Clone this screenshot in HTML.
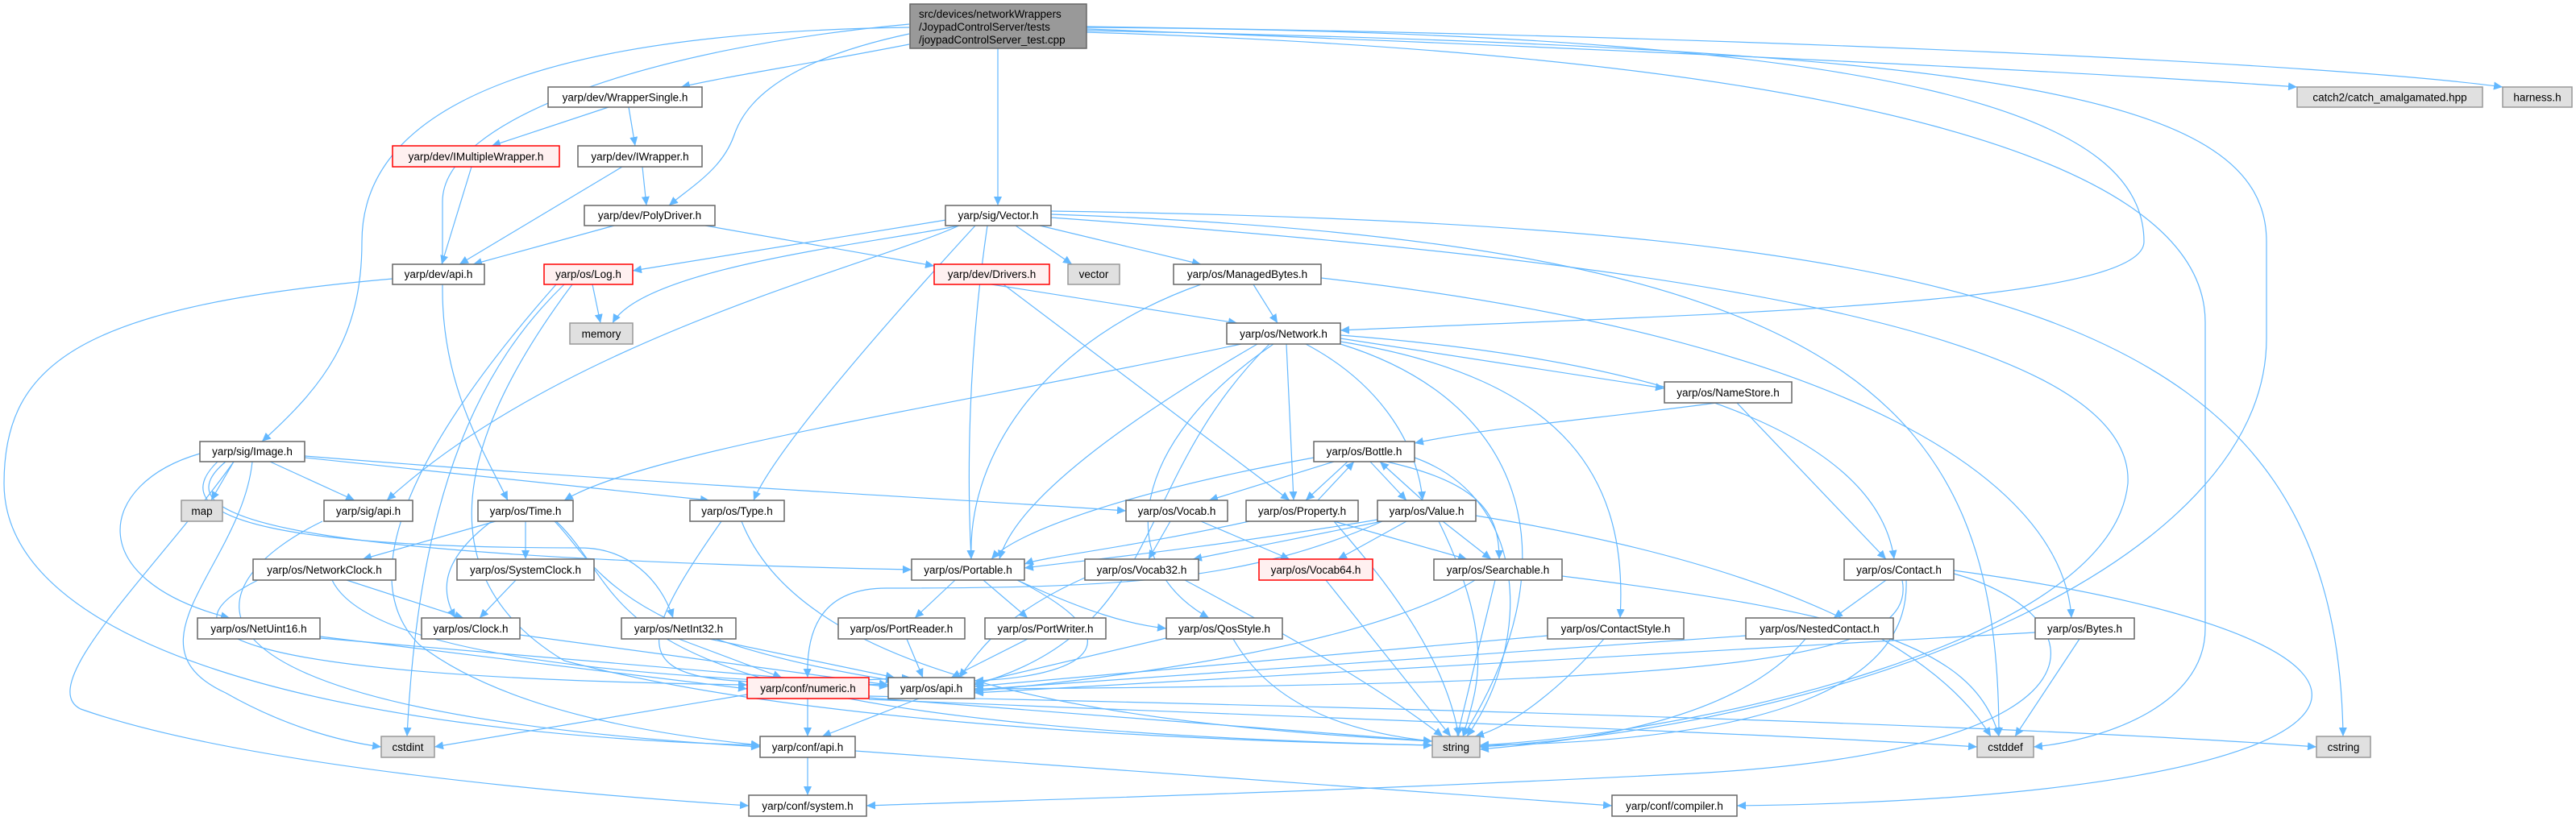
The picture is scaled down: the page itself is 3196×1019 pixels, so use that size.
<!DOCTYPE html>
<html><head><meta charset="utf-8"><style>
html,body{margin:0;padding:0;background:#fff;}
svg{display:block;}
text{font-family:"Liberation Sans",sans-serif;font-size:13.5px;fill:#000;}
.e{fill:none;stroke:#63b8ff;stroke-width:1.2;marker-end:url(#a);}
.n{fill:#fff;stroke:#666;stroke-width:1.5;}
.g{fill:#e0e0e0;stroke:#999;stroke-width:1.5;}
.r{fill:#fff0f0;stroke:#ff0000;stroke-width:1.5;}
</style></head><body>
<svg width="3196" height="1019" viewBox="0 0 3196 1019" xmlns="http://www.w3.org/2000/svg">
<defs><marker id="a" markerUnits="userSpaceOnUse" markerWidth="12" markerHeight="10" refX="11" refY="5" orient="auto"><polygon points="0,0 11,5 0,10" fill="#63b8ff"/></marker></defs>
<g>
<path class="e" d="M1238,60 L1238,255"/>
<path class="e" d="M1128,55 C1000,80 900,95 845,108"/>
<path class="e" d="M1128,42 C950,80 920,140 910,170 C895,210 860,230 830,255"/>
<path class="e" d="M1128,34 C700,40 449,120 449,300 C449,420 400,480 325,548"/>
<path class="e" d="M1128,30 C800,60 549,150 549,250 L549,360 C549,480 600,560 630,621"/>
<path class="e" d="M1348,34 C2400,40 2660,150 2660,300 C2660,380 2100,390 1663,410"/>
<path class="e" d="M1348,36 C2000,60 2600,90 2850,108"/>
<path class="e" d="M1348,33 C2200,45 2900,80 3105,108"/>
<path class="e" d="M1348,38 C2500,60 2812,120 2812,300 L2812,420 C2812,700 2300,900 1835,927"/>
<path class="e" d="M1348,40 C2300,70 2736,200 2736,400 L2736,780 C2736,880 2600,920 2523,927"/>
<path class="e" d="M755,133 L610,181"/>
<path class="e" d="M780,133 L788,181"/>
<path class="e" d="M585,207 L548,328"/>
<path class="e" d="M772,207 L570,328"/>
<path class="e" d="M797,207 L802,255"/>
<path class="e" d="M762,280 L587,328"/>
<path class="e" d="M875,280 L1159,330"/>
<path class="e" d="M487,346 C100,380 5,450 5,600 C5,800 400,910 943,925"/>
<path class="e" d="M1180,272 L785,336"/>
<path class="e" d="M1190,280 C1100,300 800,330 760,401"/>
<path class="e" d="M1260,280 L1330,328"/>
<path class="e" d="M1290,280 L1490,328"/>
<path class="e" d="M1190,280 C1080,330 700,420 480,621"/>
<path class="e" d="M1210,280 C1100,400 960,560 935,621"/>
<path class="e" d="M1225,280 C1200,450 1200,600 1205,694"/>
<path class="e" d="M1304,262 C2500,280 2900,400 2907,914"/>
<path class="e" d="M1304,266 C2300,300 2480,500 2480,914"/>
<path class="e" d="M1304,270 C2000,320 2650,400 2640,600 C2620,800 2100,910 1836,925"/>
<path class="e" d="M1230,353 L1535,401"/>
<path class="e" d="M1245,353 L1600,621"/>
<path class="e" d="M1490,353 C1300,420 1200,560 1205,694"/>
<path class="e" d="M1639,345 C2300,420 2560,600 2570,767"/>
<path class="e" d="M1555,353 L1585,401"/>
<path class="e" d="M700,353 C600,450 520,600 505,914"/>
<path class="e" d="M690,353 C560,500 420,700 520,800 C650,900 900,920 943,925"/>
<path class="e" d="M710,353 C600,500 500,700 700,820 C1000,900 1500,920 1777,925"/>
<path class="e" d="M735,353 L745,401"/>
<path class="e" d="M1540,427 C1200,500 800,560 700,621"/>
<path class="e" d="M1560,427 C1400,520 1260,620 1240,694"/>
<path class="e" d="M1596,427 L1605,621"/>
<path class="e" d="M1620,427 C1720,480 1760,560 1765,621"/>
<path class="e" d="M1663,420 L2065,482"/>
<path class="e" d="M1663,416 C2100,450 2330,550 2350,694"/>
<path class="e" d="M1663,424 C1950,470 2020,600 2010,767"/>
<path class="e" d="M1580,427 C1400,550 1380,700 1500,767"/>
<path class="e" d="M1575,427 C1400,600 1450,780 1209,850"/>
<path class="e" d="M1663,427 C1900,500 1950,700 1815,914"/>
<path class="e" d="M2130,500 C1980,520 1850,530 1755,550"/>
<path class="e" d="M2155,500 L2340,694"/>
<path class="e" d="M290,573 L262,621"/>
<path class="e" d="M335,573 L440,621"/>
<path class="e" d="M378,568 L880,621"/>
<path class="e" d="M378,566 C800,600 1200,620 1397,634"/>
<path class="e" d="M280,573 C200,640 320,690 1131,707"/>
<path class="e" d="M248,563 C120,600 100,720 285,767"/>
<path class="e" d="M270,573 C190,650 380,680 720,680 C780,680 820,720 835,767"/>
<path class="e" d="M313,573 C300,700 150,800 280,860 C350,900 420,920 473,927"/>
<path class="e" d="M290,573 C200,700 40,850 100,880 C300,950 700,985 929,1000"/>
<path class="e" d="M400,647 C250,720 150,880 943,927"/>
<path class="e" d="M615,647 L450,694"/>
<path class="e" d="M652,647 L652,694"/>
<path class="e" d="M610,647 C540,700 550,740 565,767"/>
<path class="e" d="M688,647 C740,700 760,790 1110,845"/>
<path class="e" d="M690,647 C800,750 700,900 1777,925"/>
<path class="e" d="M895,647 C760,840 780,860 1130,841"/>
<path class="e" d="M920,647 C1000,850 1400,900 1777,920"/>
<path class="e" d="M430,720 L575,767"/>
<path class="e" d="M412,720 C450,800 700,840 1102,850"/>
<path class="e" d="M320,720 C200,780 250,840 927,850"/>
<path class="e" d="M640,720 L595,767"/>
<path class="e" d="M645,788 L1102,850"/>
<path class="e" d="M397,792 L1102,852"/>
<path class="e" d="M397,790 L927,855"/>
<path class="e" d="M842,793 L970,841"/>
<path class="e" d="M880,793 L1110,841"/>
<path class="e" d="M1655,573 L1500,621"/>
<path class="e" d="M1672,573 L1620,621"/>
<path class="e" d="M1700,573 L1745,621"/>
<path class="e" d="M1720,573 C1840,600 1860,640 1860,694"/>
<path class="e" d="M1630,568 C1400,610 1260,660 1230,694"/>
<path class="e" d="M1755,568 C1900,620 1900,800 1820,914"/>
<path class="e" d="M1635,621 L1680,573"/>
<path class="e" d="M1765,621 L1712,573"/>
<path class="e" d="M1550,647 C1400,680 1300,690 1271,700"/>
<path class="e" d="M1655,647 L1820,694"/>
<path class="e" d="M1655,647 C1700,700 1790,800 1810,914"/>
<path class="e" d="M1709,645 C1500,680 1350,695 1271,705"/>
<path class="e" d="M1715,647 L1480,694"/>
<path class="e" d="M1745,647 L1660,694"/>
<path class="e" d="M1790,647 L1850,694"/>
<path class="e" d="M1785,647 C1860,800 1830,860 1815,914"/>
<path class="e" d="M1831,640 C2200,700 2400,800 2470,914"/>
<path class="e" d="M1715,647 C1550,720 1400,730 1100,730 C1020,730 1000,780 1002,841"/>
<path class="e" d="M1452,647 L1425,694"/>
<path class="e" d="M1490,647 L1600,694"/>
<path class="e" d="M1346,717 C1250,760 1220,800 1190,841"/>
<path class="e" d="M1470,720 C1620,800 1720,860 1790,914"/>
<path class="e" d="M1645,720 L1800,914"/>
<path class="e" d="M1830,720 C1700,800 1400,840 1209,858"/>
<path class="e" d="M1855,720 L1808,914"/>
<path class="e" d="M1938,715 C2300,760 2450,800 2480,914"/>
<path class="e" d="M1185,720 L1135,767"/>
<path class="e" d="M1220,720 L1275,767"/>
<path class="e" d="M1262,720 C1350,760 1400,775 1447,780"/>
<path class="e" d="M1262,720 C1420,800 1340,840 1209,845"/>
<path class="e" d="M1125,793 L1145,841"/>
<path class="e" d="M1275,793 L1180,841"/>
<path class="e" d="M1447,792 L1209,848"/>
<path class="e" d="M1530,793 C1580,880 1680,910 1777,920"/>
<path class="e" d="M1920,789 L1209,852"/>
<path class="e" d="M1990,793 C1940,850 1880,900 1830,914"/>
<path class="e" d="M2340,720 L2275,767"/>
<path class="e" d="M2360,720 C2380,820 2150,850 1209,855"/>
<path class="e" d="M2365,720 C2370,850 2200,920 1836,925"/>
<path class="e" d="M2424,712 C2600,760 2650,930 2100,960 C1600,985 1300,992 1075,1000"/>
<path class="e" d="M2424,708 C3100,800 3000,990 2155,1000"/>
<path class="e" d="M2166,789 L1209,856"/>
<path class="e" d="M2240,793 C2150,900 1950,920 1836,930"/>
<path class="e" d="M2525,785 L1209,860"/>
<path class="e" d="M2580,793 L2500,914"/>
<path class="e" d="M1140,867 L1020,914"/>
<path class="e" d="M1002,867 L1002,914"/>
<path class="e" d="M927,862 L539,927"/>
<path class="e" d="M1078,864 C1800,880 2500,900 2874,927"/>
<path class="e" d="M1078,866 L1777,920"/>
<path class="e" d="M1078,868 C1600,890 2200,910 2453,927"/>
<path class="e" d="M1002,940 L1002,987"/>
<path class="e" d="M1061,932 L2000,1000"/>
</g>
<g>
<rect class="n" x="1129" y="5" width="219" height="55" style="fill:#999"/>
<text x="1140" y="22">src/devices/networkWrappers</text>
<text x="1140" y="38">/JoypadControlServer/tests</text>
<text x="1140" y="54">/joypadControlServer_test.cpp</text>
<rect class="n" x="680" y="108" width="191" height="25"/><text x="775.5" y="125.5" text-anchor="middle">yarp/dev/WrapperSingle.h</text>
<rect class="r" x="487" y="181" width="207" height="26"/><text x="590.5" y="199" text-anchor="middle">yarp/dev/IMultipleWrapper.h</text>
<rect class="n" x="717" y="181" width="154" height="26"/><text x="794" y="199" text-anchor="middle">yarp/dev/IWrapper.h</text>
<rect class="n" x="725" y="255" width="162" height="25"/><text x="806" y="272" text-anchor="middle">yarp/dev/PolyDriver.h</text>
<rect class="n" x="487" y="328" width="114" height="25"/><text x="544" y="345" text-anchor="middle">yarp/dev/api.h</text>
<rect class="r" x="675" y="328" width="110" height="25"/><text x="730" y="345" text-anchor="middle">yarp/os/Log.h</text>
<rect class="g" x="707" y="401" width="78" height="26"/><text x="746" y="419" text-anchor="middle">memory</text>
<rect class="n" x="1173" y="255" width="131" height="25"/><text x="1238.5" y="272" text-anchor="middle">yarp/sig/Vector.h</text>
<rect class="r" x="1159" y="328" width="143" height="25"/><text x="1230.5" y="345" text-anchor="middle">yarp/dev/Drivers.h</text>
<rect class="g" x="1325" y="328" width="64" height="25"/><text x="1357" y="345" text-anchor="middle">vector</text>
<rect class="n" x="1456" y="328" width="183" height="25"/><text x="1547.5" y="345" text-anchor="middle">yarp/os/ManagedBytes.h</text>
<rect class="n" x="1522" y="401" width="141" height="26"/><text x="1592.5" y="419" text-anchor="middle">yarp/os/Network.h</text>
<rect class="n" x="2065" y="474" width="158" height="26"/><text x="2144" y="492" text-anchor="middle">yarp/os/NameStore.h</text>
<rect class="g" x="2850" y="108" width="230" height="25"/><text x="2965" y="125.5" text-anchor="middle">catch2/catch_amalgamated.hpp</text>
<rect class="g" x="3105" y="108" width="86" height="25"/><text x="3148" y="125.5" text-anchor="middle">harness.h</text>
<rect class="n" x="248" y="548" width="130" height="25"/><text x="313" y="565" text-anchor="middle">yarp/sig/Image.h</text>
<rect class="g" x="225" y="621" width="51" height="26"/><text x="250.5" y="639" text-anchor="middle">map</text>
<rect class="n" x="402" y="621" width="110" height="26"/><text x="457" y="639" text-anchor="middle">yarp/sig/api.h</text>
<rect class="n" x="593" y="621" width="118" height="26"/><text x="652" y="639" text-anchor="middle">yarp/os/Time.h</text>
<rect class="n" x="856" y="621" width="117" height="26"/><text x="914.5" y="639" text-anchor="middle">yarp/os/Type.h</text>
<rect class="n" x="1630" y="548" width="125" height="25"/><text x="1692.5" y="565" text-anchor="middle">yarp/os/Bottle.h</text>
<rect class="n" x="1397" y="621" width="126" height="26"/><text x="1460" y="639" text-anchor="middle">yarp/os/Vocab.h</text>
<rect class="n" x="1546" y="621" width="139" height="26"/><text x="1615.5" y="639" text-anchor="middle">yarp/os/Property.h</text>
<rect class="n" x="1709" y="621" width="122" height="26"/><text x="1770" y="639" text-anchor="middle">yarp/os/Value.h</text>
<rect class="n" x="1131" y="694" width="140" height="26"/><text x="1201" y="712" text-anchor="middle">yarp/os/Portable.h</text>
<rect class="n" x="1346" y="694" width="141" height="26"/><text x="1416.5" y="712" text-anchor="middle">yarp/os/Vocab32.h</text>
<rect class="r" x="1562" y="694" width="141" height="26"/><text x="1632.5" y="712" text-anchor="middle">yarp/os/Vocab64.h</text>
<rect class="n" x="1779" y="694" width="159" height="26"/><text x="1858.5" y="712" text-anchor="middle">yarp/os/Searchable.h</text>
<rect class="n" x="2288" y="694" width="136" height="26"/><text x="2356" y="712" text-anchor="middle">yarp/os/Contact.h</text>
<rect class="n" x="314" y="694" width="177" height="26"/><text x="402.5" y="712" text-anchor="middle">yarp/os/NetworkClock.h</text>
<rect class="n" x="567" y="694" width="170" height="26"/><text x="652" y="712" text-anchor="middle">yarp/os/SystemClock.h</text>
<rect class="n" x="245" y="767" width="152" height="26"/><text x="321" y="785" text-anchor="middle">yarp/os/NetUint16.h</text>
<rect class="n" x="523" y="767" width="122" height="26"/><text x="584" y="785" text-anchor="middle">yarp/os/Clock.h</text>
<rect class="n" x="771" y="767" width="142" height="26"/><text x="842" y="785" text-anchor="middle">yarp/os/NetInt32.h</text>
<rect class="n" x="1040" y="767" width="157" height="26"/><text x="1118.5" y="785" text-anchor="middle">yarp/os/PortReader.h</text>
<rect class="n" x="1222" y="767" width="150" height="26"/><text x="1297" y="785" text-anchor="middle">yarp/os/PortWriter.h</text>
<rect class="n" x="1447" y="767" width="144" height="26"/><text x="1519" y="785" text-anchor="middle">yarp/os/QosStyle.h</text>
<rect class="n" x="1920" y="767" width="169" height="26"/><text x="2004.5" y="785" text-anchor="middle">yarp/os/ContactStyle.h</text>
<rect class="n" x="2166" y="767" width="183" height="26"/><text x="2257.5" y="785" text-anchor="middle">yarp/os/NestedContact.h</text>
<rect class="n" x="2525" y="767" width="123" height="26"/><text x="2586.5" y="785" text-anchor="middle">yarp/os/Bytes.h</text>
<rect class="r" x="927" y="841" width="151" height="26"/><text x="1002.5" y="859" text-anchor="middle">yarp/conf/numeric.h</text>
<rect class="n" x="1102" y="841" width="107" height="26"/><text x="1155.5" y="859" text-anchor="middle">yarp/os/api.h</text>
<rect class="g" x="473" y="914" width="66" height="26"/><text x="506" y="932" text-anchor="middle">cstdint</text>
<rect class="n" x="943" y="914" width="118" height="26"/><text x="1002" y="932" text-anchor="middle">yarp/conf/api.h</text>
<rect class="g" x="1777" y="914" width="59" height="26"/><text x="1806.5" y="932" text-anchor="middle">string</text>
<rect class="g" x="2453" y="914" width="70" height="26"/><text x="2488" y="932" text-anchor="middle">cstddef</text>
<rect class="g" x="2874" y="914" width="67" height="26"/><text x="2907.5" y="932" text-anchor="middle">cstring</text>
<rect class="n" x="929" y="987" width="146" height="26"/><text x="1002" y="1005" text-anchor="middle">yarp/conf/system.h</text>
<rect class="n" x="2000" y="987" width="155" height="26"/><text x="2077.5" y="1005" text-anchor="middle">yarp/conf/compiler.h</text>
</g>
</svg>
</body></html>
